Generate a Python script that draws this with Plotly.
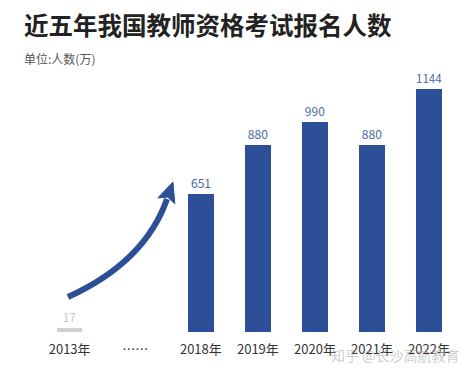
import math
import plotly.graph_objects as go

# ---- data ----
categories = ["2013年", "……", "2018年", "2019年", "2020年", "2021年", "2022年"]
values = [17, None, 651, 880, 990, 880, 1144]
value_labels = ["17", "", "651", "880", "990", "880", "1144"]

# ---- layout helpers (category placement along the axis) ----
x_pos = [0, 1.15, 2.3, 3.3, 4.3, 5.3, 6.3]
bar_colors = ["#cfcfcf", "#2c4f97", "#2c4f97", "#2c4f97", "#2c4f97", "#2c4f97", "#2c4f97"]
label_colors = ["#c8c8c8", "#4a6aa5", "#4a6aa5", "#4a6aa5", "#4a6aa5", "#4a6aa5", "#4a6aa5"]

W, H = 474, 374
L, R, T, B = 24, 5, 77, 42
xr = [-0.8, 7.0]
yr = [0, 1200]

fig = go.Figure()
fig.add_trace(go.Bar(
    x=x_pos, y=values, width=0.45,
    marker=dict(color=bar_colors, line=dict(width=0)),
    text=value_labels, textposition="outside",
    textfont=dict(size=12, color=label_colors, family="Noto Sans CJK SC"),
    cliponaxis=False, hoverinfo="skip",
))

pw = W - L - R
ph = H - T - B
def px2x(px):
    return xr[0] + (px - L) / pw * (xr[1] - xr[0])
def py2y(py):
    return yr[0] + (H - B - py) / ph * (yr[1] - yr[0])

# curved arrow shaft
sx, sy = 68, 297
cx, cy = 145, 262
ex, ey = 167, 199
path = f"M {px2x(sx)},{py2y(sy)} Q {px2x(cx)},{py2y(cy)} {px2x(ex)},{py2y(ey)}"
fig.add_shape(type="path", path=path, xref="x", yref="y",
              line=dict(color="#2c4f97", width=6), fillcolor="rgba(0,0,0,0)")
# arrow head
dx, dy = ex - cx, ey - cy
n = math.hypot(dx, dy)
ux, uy = dx / n, dy / n
px_, py_ = -uy, ux
bxc, byc = ex - 2 * ux, ey - 2 * uy
tip = (bxc + 20 * ux, byc + 20 * uy)
c1 = (bxc + 9 * px_, byc + 9 * py_)
c2 = (bxc - 9 * px_, byc - 9 * py_)
notch = (bxc + 4 * ux, byc + 4 * uy)
head = (f"M {px2x(tip[0])},{py2y(tip[1])} L {px2x(c1[0])},{py2y(c1[1])} "
        f"L {px2x(notch[0])},{py2y(notch[1])} L {px2x(c2[0])},{py2y(c2[1])} Z")
fig.add_shape(type="path", path=head, xref="x", yref="y",
              line=dict(color="#2c4f97", width=1), fillcolor="#2c4f97")

fig.update_layout(
    width=W, height=H,
    margin=dict(l=L, r=R, t=T, b=B),
    paper_bgcolor="white", plot_bgcolor="white",
    showlegend=False,
    bargap=0,
    font=dict(family="Noto Sans CJK SC", color="#333"),
    xaxis=dict(range=xr, tickmode="array", tickvals=x_pos, ticktext=categories,
               showgrid=False, zeroline=False, showline=False, ticks="",
               ticklabelstandoff=8,
               tickfont=dict(size=13, color="#333"), fixedrange=True),
    yaxis=dict(range=yr, visible=False, showgrid=False, zeroline=False, fixedrange=True),
    annotations=[
        dict(text="<b>近五年我国教师资格考试报名人数</b>", xref="paper", yref="paper",
             x=(22 - L) / pw, y=(H - B - 24) / ph, xanchor="left", yanchor="middle",
             showarrow=False, font=dict(size=24.5, color="#222", family="Noto Sans CJK SC")),
        dict(text="单位:人数(万)", xref="paper", yref="paper",
             x=(22 - L) / pw, y=(H - B - 58) / ph, xanchor="left", yanchor="middle",
             showarrow=False, font=dict(size=12, color="#555", family="Noto Sans CJK SC")),
        dict(text="知乎 @长沙高航教育", xref="paper", yref="paper",
             x=(461 - L) / pw, y=(H - B - 355) / ph, xanchor="right", yanchor="middle",
             showarrow=False, font=dict(size=14, color="rgba(175,175,175,0.65)", family="Noto Sans CJK SC")),
    ],
)

fig.write_html("out.html", config={"displayModeBar": False},
               post_script="document.body.style.margin='0';document.body.style.padding='0';")
